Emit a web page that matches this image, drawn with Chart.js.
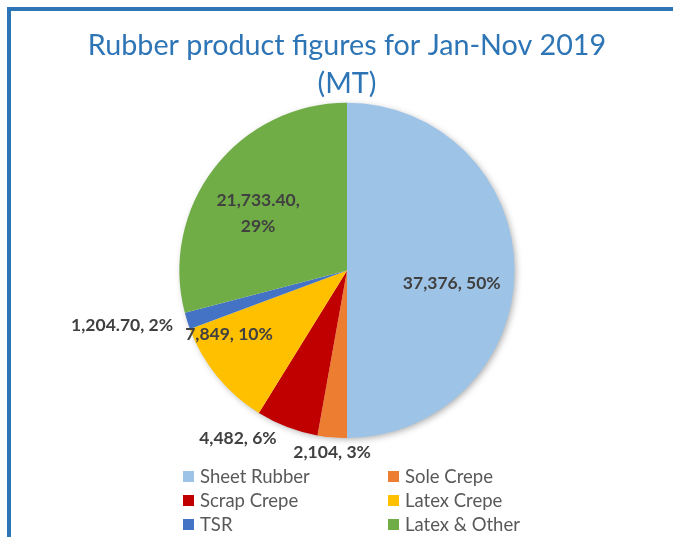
<!DOCTYPE html>
<html>
<head>
<meta charset="utf-8">
<script src="https://cdn.jsdelivr.net/npm/chart.js@4/dist/chart.umd.min.js"></script>
<style>
  html, body { margin: 0; padding: 0; background: #fff; }
  body { width: 673px; height: 537px; position: relative; overflow: hidden; font-family: Lato, "Open Sans", sans-serif; }
  #frame { position: absolute; left: 7px; top: 7px; width: 700px; height: 600px; border: 4px solid #2e75b6; box-sizing: border-box; }
  #wrap { position: absolute; left: 0; top: 0; width: 673px; height: 537px; }
  #legend { position: absolute; left: 0; top: 0; width: 673px; height: 537px; pointer-events: none; }
  .item { position: absolute; display: flex; align-items: center; color: #595959; font-size: 18.5px; white-space: nowrap; }
  .box { width: 11px; height: 11px; margin-right: 6px; }
</style>
</head>
<body>
<div id="frame"></div>
<div id="wrap"><canvas id="rubberChart" width="673" height="537"></canvas></div>
<div id="legend"></div>
<script>
// data
const categories = ["Sheet Rubber", "Sole Crepe", "Scrap Crepe", "Latex Crepe", "TSR", "Latex & Other"];
const volumes = [37376, 2104, 4482, 7849, 1204.70, 21733.40];
const percentLabels = [50, 3, 6, 10, 2, 29];
const colors = ["#9dc3e6", "#ed7d31", "#c00000", "#ffc000", "#4472c4", "#70ad47"];

// where each data label goes: distance as part of radius, turn in degrees
const labelRadius = [0.63, 1.09, 1.194, 0.8, 1.381, 0.63];
const labelTurn = [7.1, -0.4, 12.1, 11, 3.9, -5];

function fmt(v) {
  if (Number.isInteger(v)) return v.toLocaleString("en-US");
  return v.toLocaleString("en-US", { minimumFractionDigits: 2, maximumFractionDigits: 2 });
}

const pieShadow = {
  id: "pieShadow",
  beforeDatasetsDraw(chart) {
    const arc = chart.getDatasetMeta(0).data[0];
    if (!arc) return;
    const ctx = chart.ctx;
    ctx.save();
    ctx.shadowColor = "rgba(0,0,0,0.35)";
    ctx.shadowBlur = 7;
    ctx.shadowOffsetX = 2;
    ctx.shadowOffsetY = 2;
    ctx.fillStyle = "#fff";
    ctx.beginPath();
    ctx.arc(arc.x, arc.y, arc.outerRadius - 1, 0, Math.PI * 2);
    ctx.fill();
    ctx.restore();
  }
};

const dataLabels = {
  id: "dataLabels",
  afterDatasetsDraw(chart) {
    const ctx = chart.ctx;
    const meta = chart.getDatasetMeta(0);
    ctx.save();
    ctx.font = "bold 17.5px Lato, 'Open Sans', sans-serif";
    ctx.fillStyle = "#404040";
    ctx.textAlign = "center";
    ctx.textBaseline = "middle";
    meta.data.forEach((arc, i) => {
      const p = arc.getProps(["x", "y", "startAngle", "endAngle", "outerRadius"], true);
      const a = (p.startAngle + p.endAngle) / 2 + labelTurn[i] * Math.PI / 180;
      const d = p.outerRadius * labelRadius[i];
      const x = p.x + Math.cos(a) * d;
      const y = p.y + Math.sin(a) * d;
      const val = fmt(volumes[i]);
      const pct = percentLabels[i] + "%";
      if (i === 5) {
        ctx.fillText(val + ",", x, y - 13);
        ctx.fillText(pct, x, y + 13);
      } else {
        ctx.fillText(val + ", " + pct, x, y);
      }
    });
    ctx.restore();
  }
};

const ctx = document.getElementById("rubberChart").getContext("2d");
const rubberChart = new Chart(ctx, {
  type: "pie",
  data: {
    labels: categories,
    datasets: [{
      data: volumes,
      backgroundColor: colors,
      borderWidth: 0
    }]
  },
  options: {
    responsive: false,
    animation: false,
    layout: { padding: { top: 0, bottom: 99, left: 21, right: 0 } },
    plugins: {
      legend: { display: false },
      tooltip: { enabled: false },
      title: {
        display: true,
        text: ["Rubber product figures for Jan-Nov 2019", "(MT)"],
        color: "#2e75b6",
        font: { family: "Lato, 'Open Sans', sans-serif", size: 28.7, weight: "normal", lineHeight: 1.32 },
        padding: { top: 27, bottom: 0 }
      }
    }
  },
  plugins: [pieShadow, dataLabels]
});

// legend in two columns
const legend = document.getElementById("legend");
const colLeft = [183, 388];
const rowTop = [477, 501, 525];
categories.forEach((name, i) => {
  const el = document.createElement("div");
  el.className = "item";
  el.style.left = colLeft[i % 2] + "px";
  el.style.top = (rowTop[Math.floor(i / 2)] - 12) + "px";
  el.innerHTML = `<span class="box" style="background:${colors[i]}"></span><span>${name}</span>`;
  legend.appendChild(el);
});
</script>
</body>
</html>
